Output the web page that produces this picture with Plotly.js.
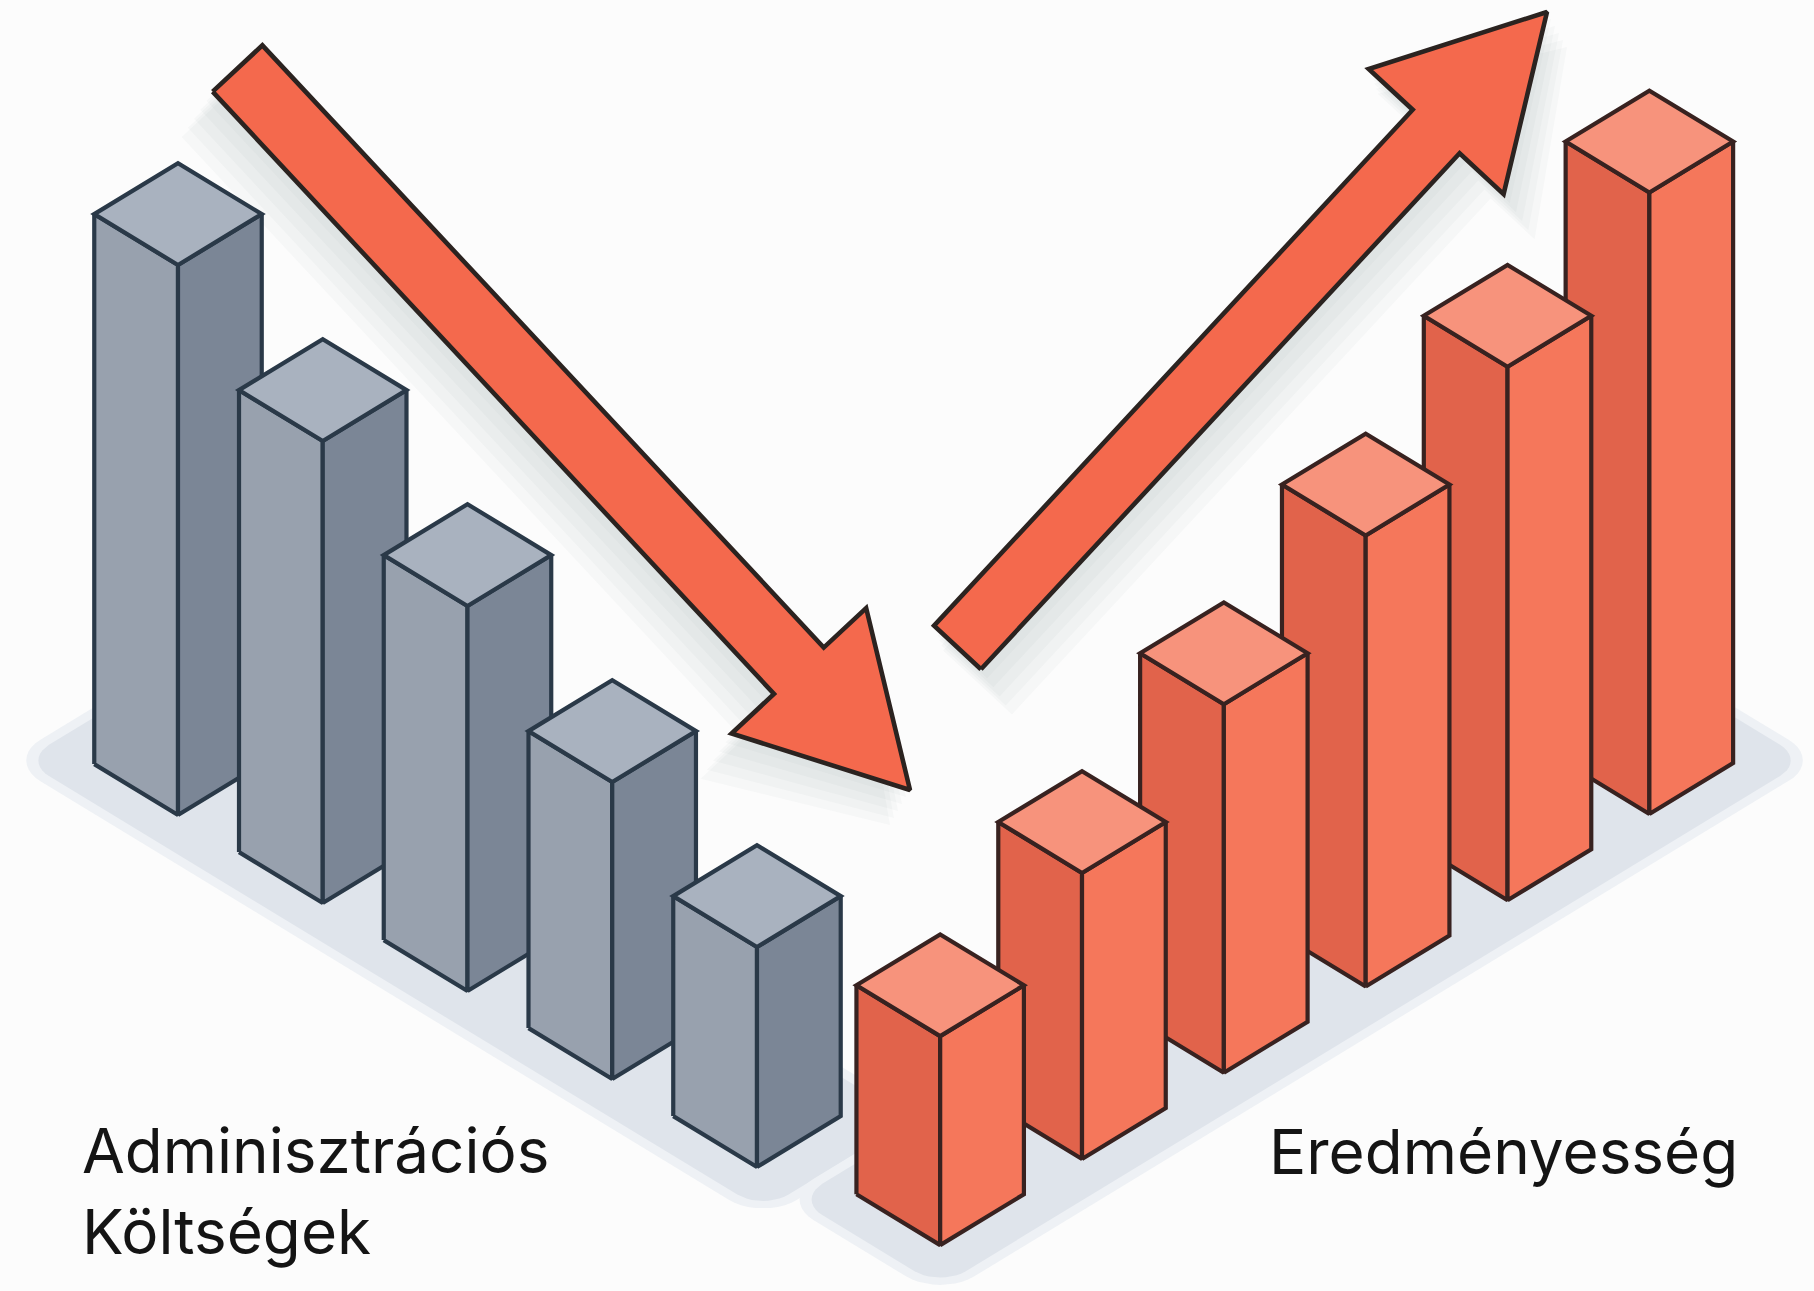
<!DOCTYPE html>
<html>
<head>
<meta charset="utf-8">
<script src="https://cdn.plot.ly/plotly-3.0.1.min.js"></script>
<style>
html,body{margin:0;padding:0;background:#fcfcfc;}
#chart{width:1814px;height:1291px;}
</style>
</head>
<body>
<div id="chart"></div>
<script>
// ---------- DATA ----------
const adminLabel = 'Adminisztrációs<br>Költségek';
const resultLabel = 'Eredményesség';
const adminPeriods = ['1', '2', '3', '4', '5'];
const adminCosts = [100, 84, 70, 54, 40];
const resultPeriods = ['1', '2', '3', '4', '5', '6'];
const effectiveness = [38, 52, 67, 82, 97, 113];

// ---------- LAYOUT / PROJECTION CONSTANTS ----------
const W = 1814, H = 1291;
const TH = 31.3 * Math.PI / 180, CO = Math.cos(TH), SI = Math.sin(TH);
const ORIGIN = [178, 815];
const UNIT = 5.5;          // screen px per value unit (vertical)
const BAR = 98;            // footprint edge length (world units)
const STEP_G = 169.4, STEP_O = 166;
const ORANGE_A = 860, ORANGE_B0 = 32;

const grayCol = {top: '#a9b2bf', left: '#98a1ae', right: '#7b8696', edge: '#2a3948'};
const orangeCol = {top: '#f7937c', left: '#e1634b', right: '#f5775b', edge: '#382220'};
const arrowFill = '#f4694d', arrowEdge = '#2b2320';

function proj(a, b, z) {
  return [ORIGIN[0] + (a + b) * CO, ORIGIN[1] + (a - b) * SI - z * UNIT];
}
function poly(pts) {
  const xs = [], ys = [];
  pts.forEach(p => { xs.push(p[0]); ys.push(p[1]); });
  xs.push(pts[0][0]); ys.push(pts[0][1]);
  return {x: xs, y: ys};
}
function faceTrace(pts, fill, edge, lw, name, hover) {
  const p = poly(pts);
  return {
    type: 'scatter', mode: 'lines', x: p.x, y: p.y,
    fill: 'toself', fillcolor: fill,
    line: {color: edge, width: lw, shape: 'linear'},
    hoverinfo: hover ? 'text' : 'skip', text: hover || '', hoveron: 'fills',
    showlegend: false, name: name || ''
  };
}
function barTraces(a, b, v, col, label) {
  const w = BAR;
  const left = [proj(a - w, b, 0), proj(a, b, 0), proj(a, b, v), proj(a - w, b, v)];
  const right = [proj(a, b, 0), proj(a, b + w, 0), proj(a, b + w, v), proj(a, b, v)];
  const top = [proj(a, b, v), proj(a - w, b, v), proj(a - w, b + w, v), proj(a, b + w, v)];
  return [
    faceTrace(left, col.left, col.edge, 4.2, label, label),
    faceTrace(right, col.right, col.edge, 4.2, label, label),
    faceTrace(top, col.top, col.edge, 4.2, label, label)
  ];
}
function roundedRect(a0, a1, b0, b1, r, n) {
  const pts = [];
  const corners = [
    [a1 - r, b0 + r, -Math.PI / 2, 0],
    [a1 - r, b1 - r, 0, Math.PI / 2],
    [a0 + r, b1 - r, Math.PI / 2, Math.PI],
    [a0 + r, b0 + r, Math.PI, 1.5 * Math.PI]
  ];
  corners.forEach(c => {
    for (let i = 0; i <= n; i++) {
      const t = c[2] + (c[3] - c[2]) * i / n;
      pts.push(proj(c[0] + r * Math.cos(t), c[1] + r * Math.sin(t), 0));
    }
  });
  return pts;
}
function arrowPts(tail, tip, hw, hh, hl, dx, dy) {
  dx = dx || 0; dy = dy || 0;
  const vx = tip[0] - tail[0], vy = tip[1] - tail[1];
  const L = Math.hypot(vx, vy), ux = vx / L, uy = vy / L, nx = -uy, ny = ux;
  const neck = [tip[0] - ux * hl, tip[1] - uy * hl];
  const P = (p, k) => [p[0] + nx * k + dx, p[1] + ny * k + dy];
  return [P(tail, hw), P(neck, hw), P(neck, hh), [tip[0] + dx, tip[1] + dy],
          P(neck, -hh), P(neck, -hw), P(tail, -hw)];
}

const traces = [];

// ---------- floor platforms ----------
const gA0 = -BAR - 45, gA1 = (adminCosts.length - 1) * STEP_G + 45, gB0 = -38, gB1 = BAR + 38;
const oA0 = ORANGE_A - BAR - 30, oA1 = ORANGE_A + 40,
      oB0 = ORANGE_B0 - 40, oB1 = ORANGE_B0 + (effectiveness.length - 1) * STEP_O + BAR + 45;
[[gA0, gA1, gB0, gB1], [oA0, oA1, oB0, oB1]].forEach(r => {
  traces.push(faceTrace(roundedRect(r[0] - 10, r[1] + 10, r[2] - 10, r[3] + 10, 40, 10), '#eef1f5', 'rgba(0,0,0,0)', 0));
  traces.push(faceTrace(roundedRect(r[0], r[1], r[2], r[3], 30, 10), '#dfe4eb', 'rgba(0,0,0,0)', 0));
});

// ---------- arrow shadows ----------
const arrow1 = {tail: [237.5, 68.5], tip: [910, 790], hw: 34, hh: 92, hl: 163};
const arrow2 = {tail: [957.5, 647.5], tip: [1547, 12], hw: 32, hh: 92, hl: 163};
[[arrow1, -1], [arrow2, 1]].forEach(([ar, sgn]) => {
  for (let k = 1; k <= 5; k++) {
    const pts = arrowPts(ar.tail, ar.tip, ar.hw + k * 3, ar.hh + k * 3, ar.hl, sgn * 4 * k, 7 * k);
    traces.push(faceTrace(pts, 'rgba(120,128,140,0.045)', 'rgba(0,0,0,0)', 0));
  }
});

// ---------- gray bars (back to front) ----------
adminCosts.forEach((v, i) => {
  barTraces(i * STEP_G, 0, v, grayCol, adminLabel.replace('<br>', ' ') + ' ' + adminPeriods[i] + ': ' + v)
    .forEach(t => traces.push(t));
});
// ---------- orange bars (back to front: last first) ----------
for (let j = effectiveness.length - 1; j >= 0; j--) {
  barTraces(ORANGE_A, ORANGE_B0 + j * STEP_O, effectiveness[j], orangeCol,
            resultLabel + ' ' + resultPeriods[j] + ': ' + effectiveness[j])
    .forEach(t => traces.push(t));
}

// ---------- arrows ----------
[arrow1, arrow2].forEach(ar => {
  traces.push(faceTrace(arrowPts(ar.tail, ar.tip, ar.hw, ar.hh, ar.hl), arrowFill, arrowEdge, 4.6));
});

const layout = {
  width: W, height: H,
  margin: {l: 0, r: 0, t: 0, b: 0, pad: 0},
  paper_bgcolor: '#fcfcfc', plot_bgcolor: '#fcfcfc',
  xaxis: {range: [0, W], visible: false, fixedrange: true},
  yaxis: {range: [H, 0], visible: false, fixedrange: true},
  showlegend: false,
  hovermode: 'closest',
  annotations: [
    {x: 80, y: 1191, xref: 'x', yref: 'y', xanchor: 'left', yanchor: 'middle', align: 'left',
     text: adminLabel, showarrow: false,
     font: {family: 'Inter, "Noto Sans", sans-serif', size: 62, color: '#141414'}},
    {x: 1267, y: 1151, xref: 'x', yref: 'y', xanchor: 'left', yanchor: 'middle', align: 'left',
     text: resultLabel, showarrow: false,
     font: {family: 'Inter, "Noto Sans", sans-serif', size: 62, color: '#141414'}}
  ]
};

Plotly.newPlot('chart', traces, layout, {displayModeBar: false, staticPlot: false});
</script>
</body>
</html>
